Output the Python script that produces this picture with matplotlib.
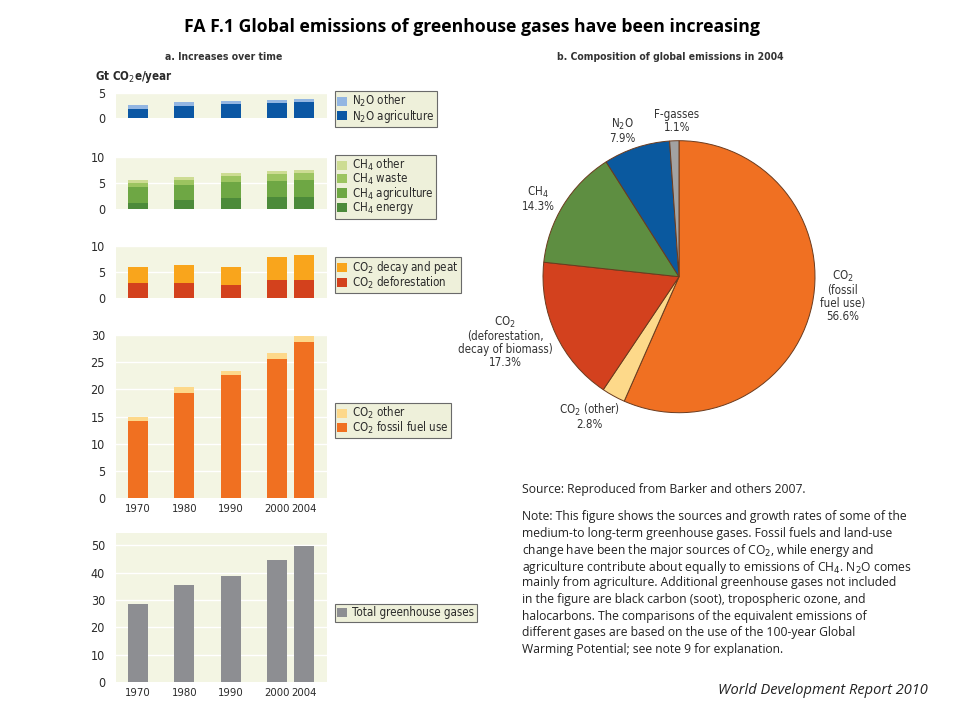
import matplotlib
matplotlib.use("Agg")
import matplotlib.pyplot as plt
from matplotlib.patches import Patch
from matplotlib.font_manager import FontProperties

# ---- data ---------------------------------------------------------------
years = ["1970", "1980", "1990", "2000", "2004"]
xpos = [0, 1, 2, 3, 3.58]

n2o_agri = [1.9, 2.4, 2.8, 3.1, 3.3]
n2o_other = [0.7, 0.9, 0.7, 0.6, 0.6]

ch4_energy = [1.2, 1.65, 2.2, 2.35, 2.4]
ch4_agri = [3.05, 3.0, 3.0, 3.0, 3.2]
ch4_waste = [0.7, 0.95, 1.1, 1.4, 1.4]
ch4_other = [0.55, 0.65, 0.65, 0.6, 0.55]

co2_defor = [2.9, 2.9, 2.45, 3.4, 3.4]
co2_decay = [3.1, 3.4, 3.55, 4.4, 4.95]

co2_fossil = [14.1, 19.3, 22.6, 25.5, 28.8]
co2_other = [0.9, 1.1, 0.8, 1.1, 1.1]

total_ghg = [28.4, 35.3, 38.8, 44.8, 49.7]

pie_labels = ["CO$_2$\n(fossil\nfuel use)\n56.6%", "CO$_2$ (other)\n2.8%",
              "CO$_2$\n(deforestation,\ndecay of biomass)\n17.3%",
              "CH$_4$\n14.3%", "N$_2$O\n7.9%", "F-gasses\n1.1%"]
pie_values = [56.6, 2.8, 17.3, 14.3, 7.9, 1.1]

note_lines = [
    "Note: This figure shows the sources and growth rates of some of the",
    "medium-to long-term greenhouse gases. Fossil fuels and land-use",
    "change have been the major sources of CO$_2$, while energy and",
    "agriculture contribute about equally to emissions of CH$_4$. N$_2$O comes",
    "mainly from agriculture. Additional greenhouse gases not included",
    "in the figure are black carbon (soot), tropospheric ozone, and",
    "halocarbons. The comparisons of the equivalent emissions of",
    "different gases are based on the use of the 100-year Global",
    "Warming Potential; see note 9 for explanation.",
]

# ---- style --------------------------------------------------------------
BODY = ["Open Sans", "DejaVu Sans"]
BG = "#f3f5e3"
LEG_BG = "#eef0da"
TXT = "#2a2a2a"


def narrow(size, weight="normal"):
    return FontProperties(family="DejaVu Sans", stretch="condensed",
                          size=size, weight=weight)


W, H = 960, 720
fig = plt.figure(figsize=(9.6, 7.2), dpi=100)


def rect(x0, y0, x1, y1):
    """pixel box (top-left origin) -> figure fraction rect"""
    return [x0 / W, 1 - y1 / H, (x1 - x0) / W, (y1 - y0) / H]


def bar_panel(box, ylim, yticks, layers, legend_top, show_years=False):
    ax = fig.add_axes(rect(*box))
    ax.set_facecolor(BG)
    bottom = [0] * len(xpos)
    for vals, col, lab in layers:
        ax.bar(xpos, vals, width=0.43, bottom=bottom, color=col, label=lab,
               zorder=3, linewidth=0)
        bottom = [b + v for b, v in zip(bottom, vals)]
    ax.set_xlim(-0.475, 4.08)
    ax.set_ylim(*ylim)
    ax.set_yticks(yticks)
    ax.set_yticklabels([str(t) for t in yticks], fontproperties=narrow(9),
                       color=TXT)
    for t in yticks[1:]:
        ax.axhline(t, color="white", lw=1.0, zorder=1)
    for s in ax.spines.values():
        s.set_visible(False)
    ax.tick_params(length=0, pad=8)
    if show_years:
        ax.set_xticks(xpos)
        ax.set_xticklabels(years, fontproperties=narrow(8.1), color=TXT)
        ax.tick_params(axis="x", pad=4)
    else:
        ax.set_xticks([])
    # legend lists the top layer first
    handles = [Patch(facecolor=c, edgecolor="none", label=l)
               for _, c, l in layers][::-1]
    leg = ax.legend(handles=handles, loc="upper left",
                    bbox_to_anchor=(335 / W, 1 - legend_top / H),
                    bbox_transform=fig.transFigure, borderaxespad=0,
                    prop=narrow(8.3), fancybox=False,
                    framealpha=1, facecolor=LEG_BG, edgecolor="#6a6a6a",
                    handlelength=0.85, handleheight=0.85, handletextpad=0.45,
                    labelspacing=-0.15, borderpad=0.2)
    leg.get_frame().set_linewidth(0.8)
    for t in leg.get_texts():
        t.set_color(TXT)
    return ax


bar_panel((116, 93, 327, 118), (0, 5), [0, 5],
          [(n2o_agri, "#0b57a4", "N$_2$O agriculture"),
           (n2o_other, "#93b6e2", "N$_2$O other")], 91)

bar_panel((116, 157, 327, 209), (0, 10), [0, 5, 10],
          [(ch4_energy, "#4c8a3a", "CH$_4$ energy"),
           (ch4_agri, "#6ea744", "CH$_4$ agriculture"),
           (ch4_waste, "#9cc460", "CH$_4$ waste"),
           (ch4_other, "#cddc93", "CH$_4$ other")], 155)

bar_panel((116, 246, 327, 298), (0, 10), [0, 5, 10],
          [(co2_defor, "#d3411d", "CO$_2$ deforestation"),
           (co2_decay, "#f9a51c", "CO$_2$ decay and peat")], 257)

bar_panel((116, 335, 327, 498), (0, 30), [0, 5, 10, 15, 20, 25, 30],
          [(co2_fossil, "#f07021", "CO$_2$ fossil fuel use"),
           (co2_other, "#fdd88a", "CO$_2$ other")], 403, show_years=True)

bar_panel((116, 533, 327, 682), (0, 54.5), [0, 10, 20, 30, 40, 50],
          [(total_ghg, "#8d8e92", "Total greenhouse gases")], 604,
          show_years=True)

# ---- pie ----------------------------------------------------------------
pax = fig.add_axes(rect(543, 140.7, 815, 412.7))
pie_colors = ["#f07022", "#fdd98a", "#d3411e", "#5e8e41", "#0a599f", "#a2a2a2"]
pax.pie(pie_values, colors=pie_colors, startangle=90, counterclock=False,
        radius=1, wedgeprops={"edgecolor": "#6b3b1e", "linewidth": 0.7})
pax.set_xlim(-1, 1)
pax.set_ylim(-1, 1)
pax.set_aspect("equal")
pax.axis("off")

# label anchor points in pixels
label_px = [(843, 296), (589, 416), (505, 342), (538, 199), (622, 131),
            (677, 121)]
for lab, (px, py) in zip(pie_labels, label_px):
    fig.text(px / W, 1 - py / H, lab, ha="center", va="center",
             fontproperties=narrow(8.3), color="#333333", linespacing=1.0)

# ---- text ---------------------------------------------------------------
fig.text(472 / W, 1 - 27 / H,
         "FA F.1 Global emissions of greenhouse gases have been increasing",
         ha="center", va="center", family=BODY, fontsize=12.7,
         fontweight="bold", color="black")
fig.text(224 / W, 1 - 57 / H, "a. Increases over time", ha="center",
         va="center", fontproperties=narrow(7.5, "bold"), color="#333333")
fig.text(670 / W, 1 - 57 / H, "b. Composition of global emissions in 2004",
         ha="center", va="center", fontproperties=narrow(7.5, "bold"),
         color="#333333")
fig.text(95 / W, 1 - 77 / H, "Gt CO$_2$e/year", ha="left", va="center",
         fontproperties=narrow(8.3, "bold"), color=TXT)

fig.text(522 / W, 1 - 489 / H, "Source: Reproduced from Barker and others 2007.",
         ha="left", va="center", family=BODY, fontsize=8.7, color="#222222")
for i, line in enumerate(note_lines):
    fig.text(522 / W, 1 - (515 + 16.6 * i) / H, line, ha="left",
             va="center_baseline", family=BODY, fontsize=8.7, color="#222222")
fig.text(928 / W, 1 - 690 / H, "World Development Report 2010", ha="right",
         va="center", family=BODY, fontsize=10.5, style="italic",
         color="#222222")

fig.savefig("out.png", dpi=100, facecolor="white")
